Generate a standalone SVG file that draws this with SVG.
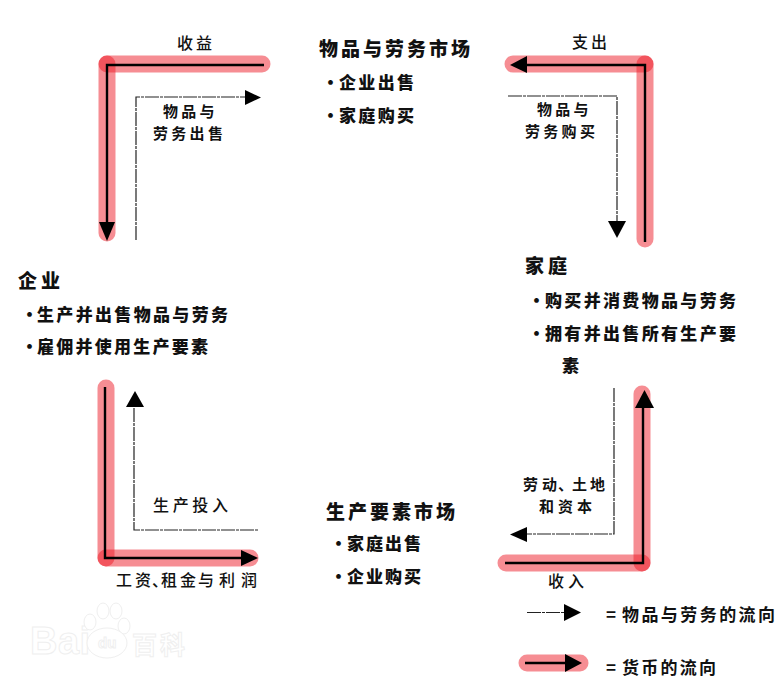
<svg xmlns="http://www.w3.org/2000/svg" width="777" height="687" viewBox="0 0 777 687">
<style>
text{font-family:"Noto Sans CJK SC","Noto Sans CJK JP",sans-serif;fill:#111}
.h{font-size:19px;font-weight:900}
.b{font-size:17px;font-weight:900}
.l{font-size:16px;font-weight:500}
.s{font-size:15px;letter-spacing:3.3px;font-weight:600}
.k{font-size:17px;font-weight:700}
.band{stroke:#ee1c28;stroke-opacity:.5;stroke-width:17;stroke-linecap:round;fill:none}
.m{stroke:#000;stroke-width:2.4;fill:none}
.g{stroke:#222;stroke-width:1.2;stroke-dasharray:14 1 3 1;fill:none}
.a{fill:#000}
.wm{fill:#fff;stroke:#efefef;stroke-width:1}
.wt{font-family:"Liberation Sans",sans-serif;font-size:38px;font-weight:700;fill:#fff;stroke:#efefef;stroke-width:1}
.wc{font-size:25px;font-weight:700;fill:#fff;stroke:#efefef;stroke-width:1}
</style>
<rect width="777" height="687" fill="#fff"/>
<g id="watermark">
<text class="wt" x="30" y="654" textLength="60">Bai</text>
<ellipse class="wm" cx="90" cy="622" rx="6" ry="8"/>
<ellipse class="wm" cx="103" cy="611" rx="6" ry="8"/>
<ellipse class="wm" cx="116" cy="611" rx="6" ry="8"/>
<ellipse class="wm" cx="124" cy="626" rx="6" ry="8"/>
<ellipse class="wm" cx="107" cy="643" rx="20" ry="15"/>
<text class="wt" style="font-size:15px" x="98" y="648">du</text>
<text class="wc" x="132" y="654" textLength="53">百科</text>
</g>
<g id="connectors">
<path class="band" d="M107 64H262"/><path class="band" d="M107 64V233"/>
<path class="band" d="M513 64H645"/><path class="band" d="M645 64V239"/>
<path class="band" d="M106 388V558"/><path class="band" d="M106 558H250"/>
<path class="band" d="M642 394V563"/><path class="band" d="M506 563H642"/>
<path class="m" d="M264 65H107V224"/><polygon class="a" points="99,222 115,222 107,241"/>
<path class="g" d="M136 240V97H246"/><polygon class="a" points="245,90 261,97.500 245,105"/>
<path class="m" d="M526 65H645V242"/><polygon class="a" points="527,56 527,73 510,65"/>
<path class="g" d="M508 96H617V222"/><polygon class="a" points="608,221 626,221 617,238"/>
<path class="m" d="M105 387V558H243"/><polygon class="a" points="241,550 241,566 258,558"/>
<path class="g" d="M134 408V530H259"/><polygon class="a" points="126,407 144,407 135,391"/>
<path class="m" d="M643 406V563H505"/><polygon class="a" points="635,408 654,408 644.500,390"/>
<path class="g" d="M614 388V534H527"/><polygon class="a" points="527,527 527,542 510,534.500"/>
</g>
<g id="goods-market">
<text class="h" x="319" y="56" textLength="151">物品与劳务市场</text>
<text class="b" x="322" y="89">·</text><text class="b" x="339" y="89" textLength="75">企业出售</text>
<text class="b" x="322" y="122">·</text><text class="b" x="339" y="122" textLength="75">家庭购买</text>
</g>
<g id="firms">
<text class="h" x="18" y="288" textLength="42">企业</text>
<text class="b" x="21" y="321">·</text><text class="b" x="37" y="321" textLength="191">生产并出售物品与劳务</text>
<text class="b" x="21" y="353">·</text><text class="b" x="37" y="353" textLength="171">雇佣并使用生产要素</text>
</g>
<g id="households">
<text class="h" x="525" y="273" textLength="42">家庭</text>
<text class="b" x="528" y="307">·</text><text class="b" x="545" y="307" textLength="191">购买并消费物品与劳务</text>
<text class="b" x="528" y="340">·</text><text class="b" x="545" y="340" textLength="191">拥有并出售所有生产要</text>
<text class="b" x="562" y="372">素</text>
</g>
<g id="factor-market">
<text class="h" x="326" y="519" textLength="129">生产要素市场</text>
<text class="b" x="330" y="550">·</text><text class="b" x="347" y="550" textLength="74">家庭出售</text>
<text class="b" x="330" y="583">·</text><text class="b" x="347" y="583" textLength="74">企业购买</text>
</g>
<g id="labels">
<text class="l" x="177" y="49" textLength="35">收益</text>
<text class="l" x="572" y="48" textLength="35">支出</text>
<text class="s"><tspan x="163" y="117">物品与</tspan><tspan x="153" y="139">劳务出售</tspan></text>
<text class="s"><tspan x="537" y="115">物品与</tspan><tspan x="525" y="137">劳务购买</tspan></text>
<text class="l" x="153" y="511" textLength="75">生产投入</text>
<text class="l" x="116 135 152 161 180 198 219 241" y="586">工资、租金与利润</text>
<text class="s" style="letter-spacing:0"><tspan x="523 542 558 572 590" y="490">劳动、土地</tspan><tspan x="539 558 577" y="512">和资本</tspan></text>
<text class="l" x="548" y="587" textLength="36">收入</text>
</g>
<g id="legend">
<path class="band" d="M527 663H580"/>
<path class="g" d="M527 612.500H566"/><polygon class="a" points="564,604 564,621 581,612.500"/>
<path class="m" d="M525 663H566"/><polygon class="a" points="565,654 565,672 582,663"/>
<text class="k" x="606" y="621">=</text><text class="k" x="622" y="621" textLength="153">物品与劳务的流向</text>
<text class="k" x="606" y="674">=</text><text class="k" x="622" y="674" textLength="94">货币的流向</text>
</g>
</svg>
